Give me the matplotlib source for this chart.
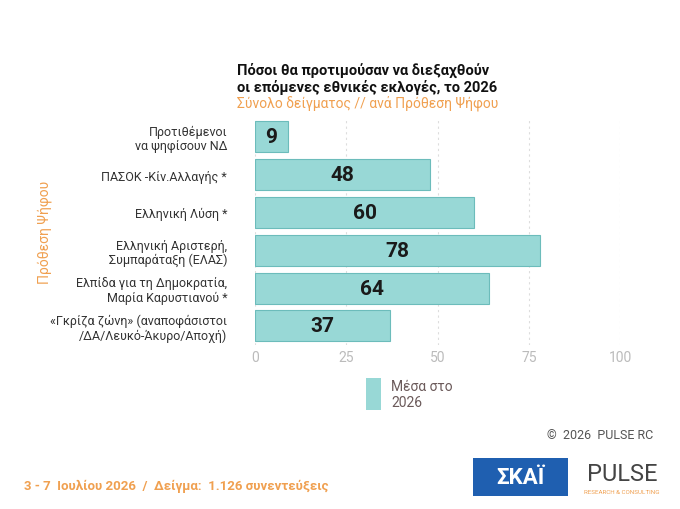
import matplotlib.pyplot as plt
import numpy as np

plt.rcParams['font.family'] = ['Roboto', 'DejaVu Sans']

categories = ["Προτιθέμενοι\nνα ψηφίσουν ΝΔ", "ΠΑΣΟΚ -Κίν.Αλλαγής *", "Ελληνική Λύση *",
              "Ελληνική Αριστερή,\nΣυμπαράταξη (ΕΛΑΣ)", "Ελπίδα για τη Δημοκρατία,\nΜαρία Καρυστιανού *",
              "«Γκρίζα ζώνη» (αναποφάσιστοι\n/ΔΑ/Λευκό-Άκυρο/Αποχή)"]
values = [9, 48, 60, 78, 64, 37]
ticks = [0, 25, 50, 75, 100]

fig = plt.figure(figsize=(6.8, 5.1), dpi=100)
ax = fig.add_axes([0.375, 0.322, 0.537, 0.445])
y = np.arange(len(values))
bars = ax.barh(y, values, height=0.82, color='#98d8d6', edgecolor='#6cbcbb', linewidth=0.8)
for b, v in zip(bars, values):
    ax.text(v / 2, b.get_y() + b.get_height() / 2, str(v), ha='center', va='center',
            fontsize=15, fontweight='bold', color='#1a1a1a')
ax.set_ylim(len(values) - 0.5, -0.5)
ax.set_xlim(0, 100)
ax.set_xticks(ticks)
ax.set_yticks(y)
ax.set_yticklabels(categories, fontsize=9, color='#333333', linespacing=1.1)
ax.tick_params(axis='x', colors='#bbbbbb', labelsize=10, length=0)
ax.tick_params(axis='y', length=0, pad=20)
ax.grid(axis='x', color='#dddddd', linestyle=(0, (2, 3)), linewidth=0.8)
ax.set_axisbelow(True)
for s in ax.spines.values():
    s.set_visible(False)

ax.text(-0.05, 1.105, "Πόσοι θα προτιμούσαν να διεξαχθούν\nοι επόμενες εθνικές εκλογές, το 2026",
        transform=ax.transAxes, fontsize=10.5, fontweight='bold', color='#111111', va='bottom', linespacing=1.15)
ax.text(-0.05, 1.035, "Σύνολο δείγματος // ανά Πρόθεση Ψήφου", transform=ax.transAxes,
        fontsize=10, color='#f0a050', va='bottom')
fig.text(0.065, 0.545, "Πρόθεση Ψήφου", rotation=90, fontsize=10, color='#f0a050', ha='center', va='center')

# legend
fig.patches.append(plt.Rectangle((0.538, 0.195), 0.022, 0.062, transform=fig.transFigure,
                                 facecolor='#98d8d6', edgecolor='none'))
fig.text(0.575, 0.226, "Μέσα στο\n2026", fontsize=10, color='#6b5a5a', va='center', linespacing=1.15)

fig.text(0.805, 0.14, "©  2026  PULSE RC", fontsize=9, color='#555555', ha='left')
fig.text(0.035, 0.04, "3 - 7  Ιουλίου 2026  /  Δείγμα:  1.126 συνεντεύξεις", fontsize=9.5,
         color='#f0a050', fontweight='bold')
fig.patches.append(plt.Rectangle((0.695, 0.025), 0.14, 0.075, transform=fig.transFigure,
                                 facecolor='#1f5fb0', edgecolor='none'))
fig.text(0.765, 0.062, "ΣΚΑΪ", fontsize=16, color='white', fontweight='bold', ha='center', va='center')
fig.text(0.915, 0.07, "PULSE", fontsize=17, color='#444444', ha='center', va='center')
fig.text(0.915, 0.035, "RESEARCH & CONSULTING", fontsize=4.5, color='#f0a050', ha='center', va='center')

fig.savefig('out.png', dpi=100)
